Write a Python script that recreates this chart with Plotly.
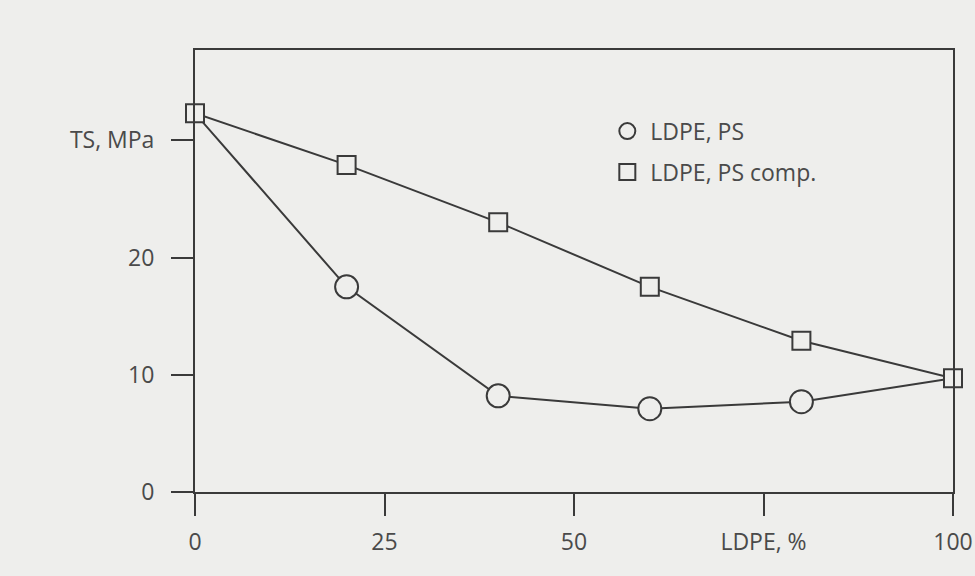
import plotly.graph_objects as go

# LDPE content, %
ldpe_pct = [0, 20, 40, 60, 80, 100]
# Tensile strength, MPa
ts_ldpe_ps = [32.3, 17.5, 8.2, 7.1, 7.7, 9.7]
ts_ldpe_ps_comp = [32.3, 27.9, 23.0, 17.5, 12.9, 9.7]

x_tick_vals = [0, 25, 50, 75, 100]
x_tick_text = ["0", "25", "50", "LDPE, %", "100"]
y_tick_vals = [0, 10, 20, 30]
y_tick_text = ["0", "10", "20", "TS, MPa"]

series_names = ["LDPE, PS", "LDPE, PS comp."]

ink = "#3a3a3a"
paper = "#eeeeec"
family = "'Open Sans', Lato, sans-serif"
font = dict(family=family, size=23, color="#4a4a4a")

fig = go.Figure()

# connecting lines
fig.add_trace(go.Scatter(x=ldpe_pct, y=ts_ldpe_ps, mode="lines",
                         line=dict(color=ink, width=2), showlegend=False,
                         cliponaxis=False, hoverinfo="skip"))
fig.add_trace(go.Scatter(x=ldpe_pct, y=ts_ldpe_ps_comp, mode="lines",
                         line=dict(color=ink, width=2), showlegend=False,
                         cliponaxis=False, hoverinfo="skip"))

# markers
fig.add_trace(go.Scatter(x=ldpe_pct[1:-1], y=ts_ldpe_ps[1:-1], mode="markers",
                         name=series_names[0], legendgroup="a", cliponaxis=False,
                         marker=dict(symbol="circle", size=23, color=paper,
                                     line=dict(color=ink, width=2))))
fig.add_trace(go.Scatter(x=ldpe_pct, y=ts_ldpe_ps_comp, mode="markers",
                         name=series_names[1], legendgroup="b", cliponaxis=False,
                         marker=dict(symbol="square", size=18, color=paper,
                                     line=dict(color=ink, width=2))))

axis_common = dict(showline=True, linecolor=ink, linewidth=2, mirror=True,
                   ticks="outside", ticklen=22, tickwidth=2, tickcolor=ink,
                   showgrid=False, zeroline=False, tickfont=font, automargin=False)

fig.update_xaxes(range=[0, 100], tickmode="array", tickvals=x_tick_vals,
                 ticktext=x_tick_text, ticklabelstandoff=6, **axis_common)
fig.update_yaxes(range=[0, 37.7], tickmode="array", tickvals=y_tick_vals,
                 ticktext=y_tick_text, ticklabelstandoff=12, **axis_common)

fig.update_layout(
    width=975, height=576,
    margin=dict(l=195, r=22, t=50, b=84, pad=0, autoexpand=False),
    paper_bgcolor=paper, plot_bgcolor=paper,
    font=font,
    legend=dict(x=0.54, y=0.865, xanchor="left", yanchor="top",
                bgcolor="rgba(0,0,0,0)", font=dict(size=23, color="#4a4a4a",
                family=family),
                itemsizing="trace", itemwidth=36, tracegroupgap=8,
                traceorder="grouped"),
)

fig.write_html("out.html")
